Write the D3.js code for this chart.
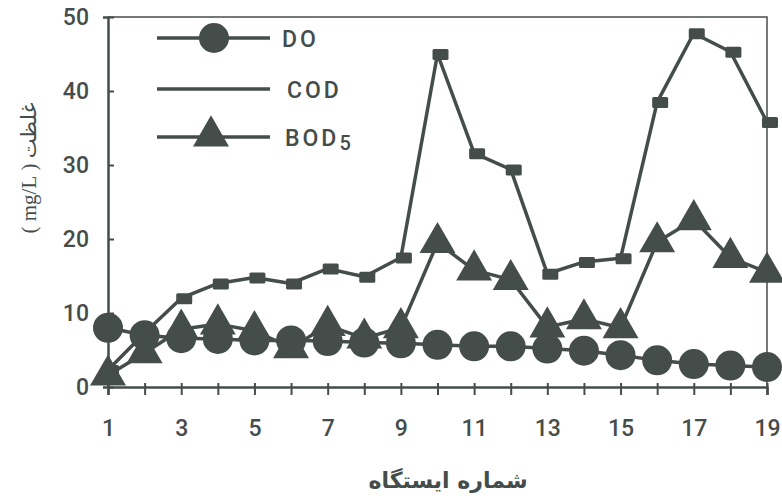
<!DOCTYPE html>
<html>
<head>
<meta charset="utf-8">
<script src="https://cdn.jsdelivr.net/npm/d3@7"></script>
<style>
  body { margin: 0; background: #fff; }
</style>
</head>
<body>
<div id="chart"></div>
<script>
// station numbers 1..19
const stations = [1,2,3,4,5,6,7,8,9,10,11,12,13,14,15,16,17,18,19];
const doValues  = [8, 7, 6.6, 6.5, 6.3, 6.3, 6.2, 6, 5.9, 5.7, 5.5, 5.5, 5.2, 4.9, 4.3, 3.6, 3.1, 2.9, 2.7];
const codValues = [2.3, 7.3, 12, 14, 14.8, 14, 16, 14.9, 17.5, 45, 31.6, 29.4, 15.3, 16.9, 17.4, 38.5, 47.8, 45.3, 35.8];
const bodValues = [1.6, 4.6, 7.8, 8.5, 7.6, 5.3, 8.3, 6.6, 8, 19.5, 15.8, 14.5, 8.1, 9.2, 8, 19.6, 22.6, 17.5, 15.5];
const xTickLabels = [1,3,5,7,9,11,13,15,17,19];
const yTicks = [0,10,20,30,40,50];

const ink = "#454d4b";
const tickFont = "Roboto, DejaVu Sans";
const margin = {top: 17, right: 15, bottom: 113, left: 108};
const W = 782, H = 500;
const height = H - margin.top - margin.bottom;

const svg = d3.select("#chart").append("svg")
  .attr("width", W).attr("height", H);
const g = svg.append("g")
  .attr("transform", "translate(" + margin.left + "," + margin.top + ")");

const x = d3.scaleLinear().domain([1, 19]).range([0, 659]);
const y = d3.scaleLinear().domain([0, 50]).range([height, 0]);

// frame: top + right
g.append("path")
  .attr("d", "M0,0H" + x(19) + "V" + height)
  .attr("fill", "none").attr("stroke", ink).attr("stroke-width", 1.5);

// x axis
const xAxis = g.append("g")
  .attr("transform", "translate(0," + height + ")")
  .call(d3.axisBottom(x).tickValues(stations).tickSize(8).tickFormat(d => xTickLabels.includes(d) ? d : ""));
xAxis.select(".domain").attr("stroke", ink).attr("stroke-width", 2.5);
xAxis.selectAll(".tick line").attr("stroke", ink).attr("stroke-width", 2).attr("y1", -4);
xAxis.selectAll(".tick text")
  .attr("dy", null)
  .attr("y", 49)
  .attr("fill", ink)
  .style("font-family", tickFont)
  .style("font-weight", "500")
  .style("font-size", "23px");

// y axis
const yAxis = g.append("g")
  .call(d3.axisLeft(y).tickValues(yTicks).tickSize(5));
yAxis.select(".domain").attr("stroke", ink).attr("stroke-width", 2.5);
yAxis.selectAll(".tick line").attr("stroke", ink).attr("stroke-width", 2).attr("x2", 6);
yAxis.selectAll(".tick text")
  .attr("x", -19)
  .attr("fill", ink)
  .style("font-family", tickFont)
  .style("font-weight", "500")
  .style("font-size", "23px");

const line = d3.line()
  .x((d, i) => x(stations[i]))
  .y(d => y(d));

// COD
g.append("path").datum(codValues)
  .attr("d", line).attr("fill", "none")
  .attr("stroke", ink).attr("stroke-width", 3.5).attr("stroke-linejoin", "round");
g.selectAll(".cod").data(codValues).enter().append("rect")
  .attr("class", "cod")
  .attr("x", (d, i) => x(stations[i]) - 5)
  .attr("y", d => y(d) - 5)
  .attr("width", 16).attr("height", 11).attr("rx", 1.5)
  .attr("fill", ink);

// BOD5
g.append("path").datum(bodValues)
  .attr("d", line).attr("fill", "none")
  .attr("stroke", ink).attr("stroke-width", 3.5).attr("stroke-linejoin", "round");
const tri = d3.symbol().type(d3.symbolTriangle).size(560);
g.selectAll(".bod").data(bodValues).enter().append("path")
  .attr("class", "bod")
  .attr("transform", (d, i) => "translate(" + x(stations[i]) + "," + y(d) + ")")
  .attr("d", tri).attr("fill", ink);

// DO
g.append("path").datum(doValues)
  .attr("d", line).attr("fill", "none")
  .attr("stroke", ink).attr("stroke-width", 3.5);
g.selectAll(".do").data(doValues).enter().append("circle")
  .attr("class", "do")
  .attr("cx", (d, i) => x(stations[i]))
  .attr("cy", d => y(d))
  .attr("r", 15)
  .attr("fill", ink);

// legend
const legend = svg.append("g");
const legendRows = [
  {name: "DO", y: 38, marker: "circle", tx: 282},
  {name: "COD", y: 89, marker: "none", tx: 287},
  {name: "BOD", y: 137, marker: "tri", sub: "5", tx: 285}
];
legendRows.forEach(r => {
  legend.append("line")
    .attr("x1", 157).attr("x2", 270).attr("y1", r.y).attr("y2", r.y)
    .attr("stroke", ink).attr("stroke-width", 3.5);
  if (r.marker === "circle") {
    legend.append("circle").attr("cx", 214).attr("cy", r.y).attr("r", 15).attr("fill", ink);
  } else if (r.marker === "tri") {
    legend.append("path").attr("transform", "translate(211," + (r.y - 1) + ")")
      .attr("d", tri).attr("fill", ink);
  }
  const t = legend.append("text")
    .attr("x", r.tx).attr("y", r.y + 9)
    .attr("fill", ink)
    .style("font-family", tickFont)
    .style("font-weight", "500")
    .style("font-size", "23px")
    .style("letter-spacing", "3px")
    .text(r.name);
  if (r.sub) {
    t.append("tspan").attr("dy", 4).style("font-size", "20px").text(r.sub);
  }
});

// axis titles
const yTitle = svg.append("text")
  .attr("transform", "translate(36,168) rotate(-90)")
  .attr("text-anchor", "middle")
  .attr("direction", "rtl")
  .attr("fill", ink)
  .style("font-size", "21px");
yTitle.append("tspan").style("font-family", "DejaVu Sans").text("غلظت");
yTitle.append("tspan").style("font-family", "Liberation Serif").text(" ( mg/L )");

svg.append("text")
  .attr("x", 448).attr("y", 488)
  .attr("text-anchor", "middle")
  .attr("direction", "rtl")
  .attr("fill", ink)
  .style("font-family", "DejaVu Sans")
  .style("font-size", "22px")
  .style("font-weight", "bold")
  .text("شماره ایستگاه");
</script>
</body>
</html>
